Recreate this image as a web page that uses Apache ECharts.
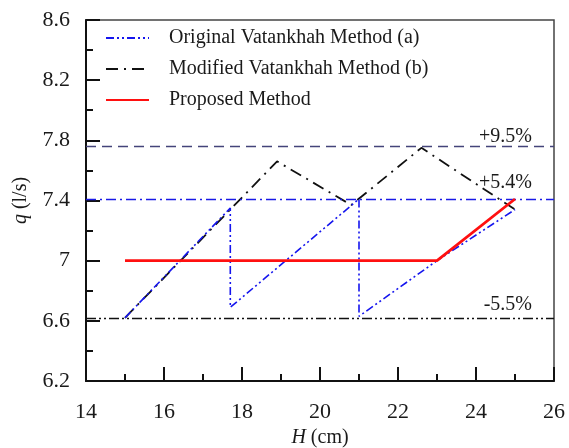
<!DOCTYPE html>
<html>
<head>
<meta charset="utf-8">
<script src="https://cdn.jsdelivr.net/npm/echarts@6/dist/echarts.min.js"></script>
<style>
  html, body { margin: 0; padding: 0; background: #fff; }
  #chart { width: 569px; height: 448px; }
</style>
</head>
<body>
<div id="chart"></div>
<script>
// Discharge q (l/s) against head H (cm) for three calculation methods
const hOriginal = [15, 17.7, 17.7, 21, 21, 23, 25];
const qOriginal = [6.62, 7.35, 6.69, 7.41, 6.63, 7.0, 7.34];

const hModified = [15, 18.9, 20.8, 22.6, 25];
const qModified = [6.62, 7.66, 7.37, 7.75, 7.34];

const hProposed = [15, 23, 25];
const qProposed = [7.0, 7.0, 7.41];

// Error band reference levels
const bandValues = [7.76, 7.41, 6.62];
const bandLabels = ['+9.5%', '+5.4%', '-5.5%'];

const seriesNames = [
  'Original Vatankhah Method (a)',
  'Modified Vatankhah Method (b)',
  'Proposed Method'
];

const yMajorTicks = [6.2, 6.6, 7.0, 7.4, 7.8, 8.2, 8.6];
const xTicks = [14, 16, 18, 20, 22, 24, 26];

const FONT = '"Liberation Serif", "Times New Roman", serif';
const TEXT = '#1a1a1a';

const pairs = (xs, ys) => xs.map((x, i) => [x, ys[i]]);

const bandStyles = [
  { color: '#44447a', type: [10, 6], width: 1.3 },
  { color: '#1a1ae6', type: [10, 4, 2, 4], width: 1.3 },
  { color: '#111111', type: [10, 3, 2, 3, 2, 3], width: 1.3 }
];
const bandLabelDist = [[22, 0], [22, 6], [22, 3]];

// One helper series per band, each carrying its own horizontal mark line
const bandSeries = bandValues.map((v, i) => ({
  name: 'band' + i, type: 'line', data: [], silent: true,
  markLine: {
    symbol: 'none', silent: true,
    lineStyle: bandStyles[i],
    label: {
      show: true, position: 'insideEndTop', formatter: bandLabels[i],
      fontFamily: FONT, fontSize: 20, color: TEXT, distance: bandLabelDist[i]
    },
    emphasis: { disabled: true },
    data: [{ yAxis: v }]
  }
}));

const chart = echarts.init(document.getElementById('chart'), null, { renderer: 'canvas' });

chart.setOption({
  backgroundColor: '#ffffff',
  animation: false,
  grid: {
    left: 86, right: 15, top: 20, bottom: 67,
    outerBoundsMode: 'none', containLabel: false,
    show: true, borderColor: '#444', borderWidth: 1.5, backgroundColor: 'transparent'
  },
  legend: {
    orient: 'vertical',
    left: 100, top: 23,
    itemWidth: 43, itemHeight: 14, itemGap: 11,
    itemStyle: { opacity: 0 },
    textStyle: { fontFamily: FONT, fontSize: 20, color: TEXT, padding: [0, 0, 0, 15] },
    data: seriesNames
  },
  xAxis: {
    type: 'value', min: 14, max: 26, interval: 2,
    name: '{i|H} (cm)', nameLocation: 'middle', nameGap: 45,
    nameTextStyle: {
      fontFamily: FONT, fontSize: 20, color: TEXT,
      rich: { i: { fontFamily: FONT, fontSize: 20, fontStyle: 'italic', color: TEXT } }
    },
    axisLine: { lineStyle: { color: '#111', width: 2 } },
    axisTick: { inside: true, length: 14, lineStyle: { color: '#111', width: 2 } },
    minorTick: { show: true, splitNumber: 2, length: 7, lineStyle: { color: '#111', width: 2 } },
    axisLabel: { fontFamily: FONT, fontSize: 22, color: TEXT, margin: 20, customValues: xTicks },
    splitLine: { show: false }
  },
  yAxis: [
    {
      type: 'value', min: 6.2, max: 8.6, interval: 0.2,
      name: '{i|q} (l/s)', nameLocation: 'middle', nameGap: 55, nameRotate: 90,
      nameTextStyle: {
        fontFamily: FONT, fontSize: 20, color: TEXT,
        rich: { i: { fontFamily: FONT, fontSize: 20, fontStyle: 'italic', color: TEXT } }
      },
      axisLine: { show: true, lineStyle: { color: '#111', width: 2 } },
      axisTick: { inside: true, length: 7, lineStyle: { color: '#111', width: 2 } },
      axisLabel: {
        fontFamily: FONT, fontSize: 22, color: TEXT, margin: 16,
        customValues: yMajorTicks,
        formatter: v => (Math.abs(v - 7) < 1e-6 ? '7' : v.toFixed(1))
      },
      splitLine: { show: false }
    },
    {
      type: 'value', min: 6.2, max: 8.6, interval: 0.2, position: 'left',
      axisLine: { show: false },
      axisTick: { show: true, inside: true, length: 14, customValues: yMajorTicks,
                  lineStyle: { color: '#111', width: 2 } },
      axisLabel: { show: false },
      splitLine: { show: false }
    }
  ],
  series: bandSeries.concat([
    {
      name: seriesNames[1], type: 'line', symbol: 'none', z: 3,
      data: pairs(hModified, qModified),
      lineStyle: { color: '#111111', width: 1.8, type: [12, 6, 2, 6] },
      itemStyle: { color: '#111111' }
    },
    {
      name: seriesNames[0], type: 'line', symbol: 'none', z: 4,
      data: pairs(hOriginal, qOriginal),
      lineStyle: { color: '#1515ee', width: 1.6, type: [8, 3, 2, 3, 2, 3] },
      itemStyle: { color: '#1515ee' }
    },
    {
      name: seriesNames[2], type: 'line', symbol: 'none', z: 5,
      data: pairs(hProposed, qProposed),
      lineStyle: { color: '#ff1010', width: 2.8, type: 'solid' },
      itemStyle: { color: '#ff1010' }
    }
  ])
});
</script>
</body>
</html>
